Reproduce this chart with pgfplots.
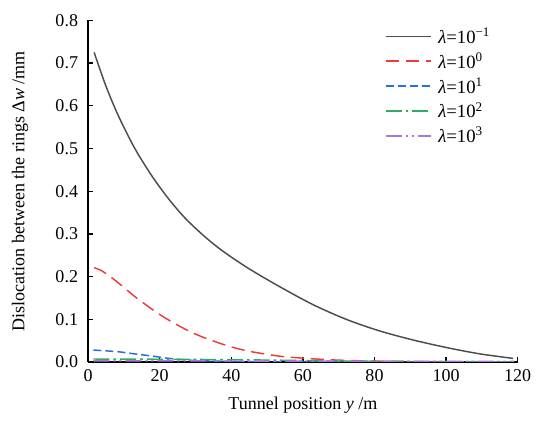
\documentclass[border=0pt]{standalone}
\usepackage{fontspec}
\setmainfont{Liberation Serif}
\usepackage{pgfplots}
\pgfplotsset{compat=1.18}
\definecolor{lblack}{HTML}{4D4D4D}
\definecolor{lred}{HTML}{EE3B3B}
\definecolor{lblue}{HTML}{2270DD}
\definecolor{lgreen}{HTML}{33AA66}
\definecolor{lpurple}{HTML}{AA77DD}
\begin{document}
\begin{tikzpicture}[font=\fontsize{13.5}{15}\selectfont]
\begin{axis}[
  scale only axis,
  width=322pt, height=256pt,
  xmin=0, xmax=120, ymin=0, ymax=0.8,
  axis lines=left,
  axis line style={line width=1.2pt, -},
  tick align=inside,
  major tick length=4pt,
  tick style={line width=1pt, black},
  xtick={0,20,...,120},
  ytick={0,0.1,...,0.8},
  /pgf/number format/assume math mode=true,
  yticklabel style={/pgf/number format/.cd, fixed, fixed zerofill, precision=1, /tikz/.cd, xshift=-4pt},
  xticklabel style={yshift=-2pt},
  xlabel={Tunnel position \textit{y} /m},
  ylabel={Dislocation between the rings Δ\textit{w} /mm},
  xlabel style={at={(axis description cs:0.5,-0.125)}, anchor=center},
  ylabel style={at={(axis description cs:-0.158,0.5)}, anchor=center},
  legend style={draw=none, fill=none, at={(axis description cs:0.69,0.988)}, anchor=north west,
    inner sep=0pt, row sep=1.5pt, font=\fontsize{14}{15}\selectfont},
  legend cell align=left,
  legend image code/.code={\draw[mark repeat=2,mark phase=2,#1,line width=1.1pt] plot coordinates {(0pt,0pt) (17pt,0pt) (34pt,0pt)};},
]
\addplot[color=lblack, line width=1.1pt, smooth] coordinates {
(1.7,0.725)(5,0.646)(8.5,0.576)(13,0.501)(17.8,0.436)(22.5,0.382)(27.1,0.337)(32,0.298)(36.3,0.268)(41,0.240)(46.2,0.212)(53.6,0.176)(62.9,0.134)(72.2,0.0996)(81.5,0.0726)(90.8,0.0515)(100.2,0.0337)(109.5,0.0189)(118.7,0.0085)
};
\addlegendentry{\hspace{3pt}\textit{λ}=10\textsuperscript{−1}}
\addplot[color=lred, line width=1.1pt, smooth, dash pattern=on 10pt off 5pt] coordinates {
(1.7,0.221)(3.5,0.215)(5.2,0.206)(7,0.195)(8.5,0.185)(10.8,0.169)(13.1,0.153)(15.5,0.138)(17.8,0.124)(20.8,0.107)(23.8,0.092)(27.1,0.077)(31.5,0.06)(36.4,0.045)(41,0.033)(45.7,0.024)(50,0.018)(54.1,0.013)(60,0.009)(68,0.005)(80,0.002)(95,0.0008)(110,0.0003)(119,0.0001)
};
\addlegendentry{\hspace{3pt}\textit{λ}=10\textsuperscript{0}}
\addplot[color=lblue, line width=1.1pt, smooth, dash pattern=on 6pt off 3pt] coordinates {
(1.5,0.028)(8.4,0.024)(13,0.019)(17.8,0.014)(22,0.009)(27,0.005)(32,0.003)(40,0.0012)(50,0.0004)(65,0.0001)(80,0)(119,0)
};
\addlegendentry{\hspace{3pt}\textit{λ}=10\textsuperscript{1}}
\addplot[color=lgreen, line width=1.1pt, smooth, dash pattern=on 12pt off 3pt on 2pt off 3pt] coordinates {
(1.5,0.007)(15,0.0066)(30,0.006)(45,0.005)(60,0.0035)(75,0.002)(90,0.0012)(105,0.0007)(119,0.0004)
};
\addlegendentry{\hspace{3pt}\textit{λ}=10\textsuperscript{2}}
\addplot[color=lpurple, line width=1.1pt, smooth, dash pattern=on 12pt off 3pt on 1.5pt off 3pt on 1.5pt off 3pt] coordinates {
(1.5,0.0025)(30,0.0024)(60,0.0021)(90,0.0017)(119,0.0013)
};
\addlegendentry{\hspace{3pt}\textit{λ}=10\textsuperscript{3}}
\end{axis}
\pgfresetboundingbox
\path ([shift={(-66pt,-54pt)}]current axis.south west) rectangle ([shift={(335.7pt,271.3pt)}]current axis.south west);
\end{tikzpicture}
\end{document}
